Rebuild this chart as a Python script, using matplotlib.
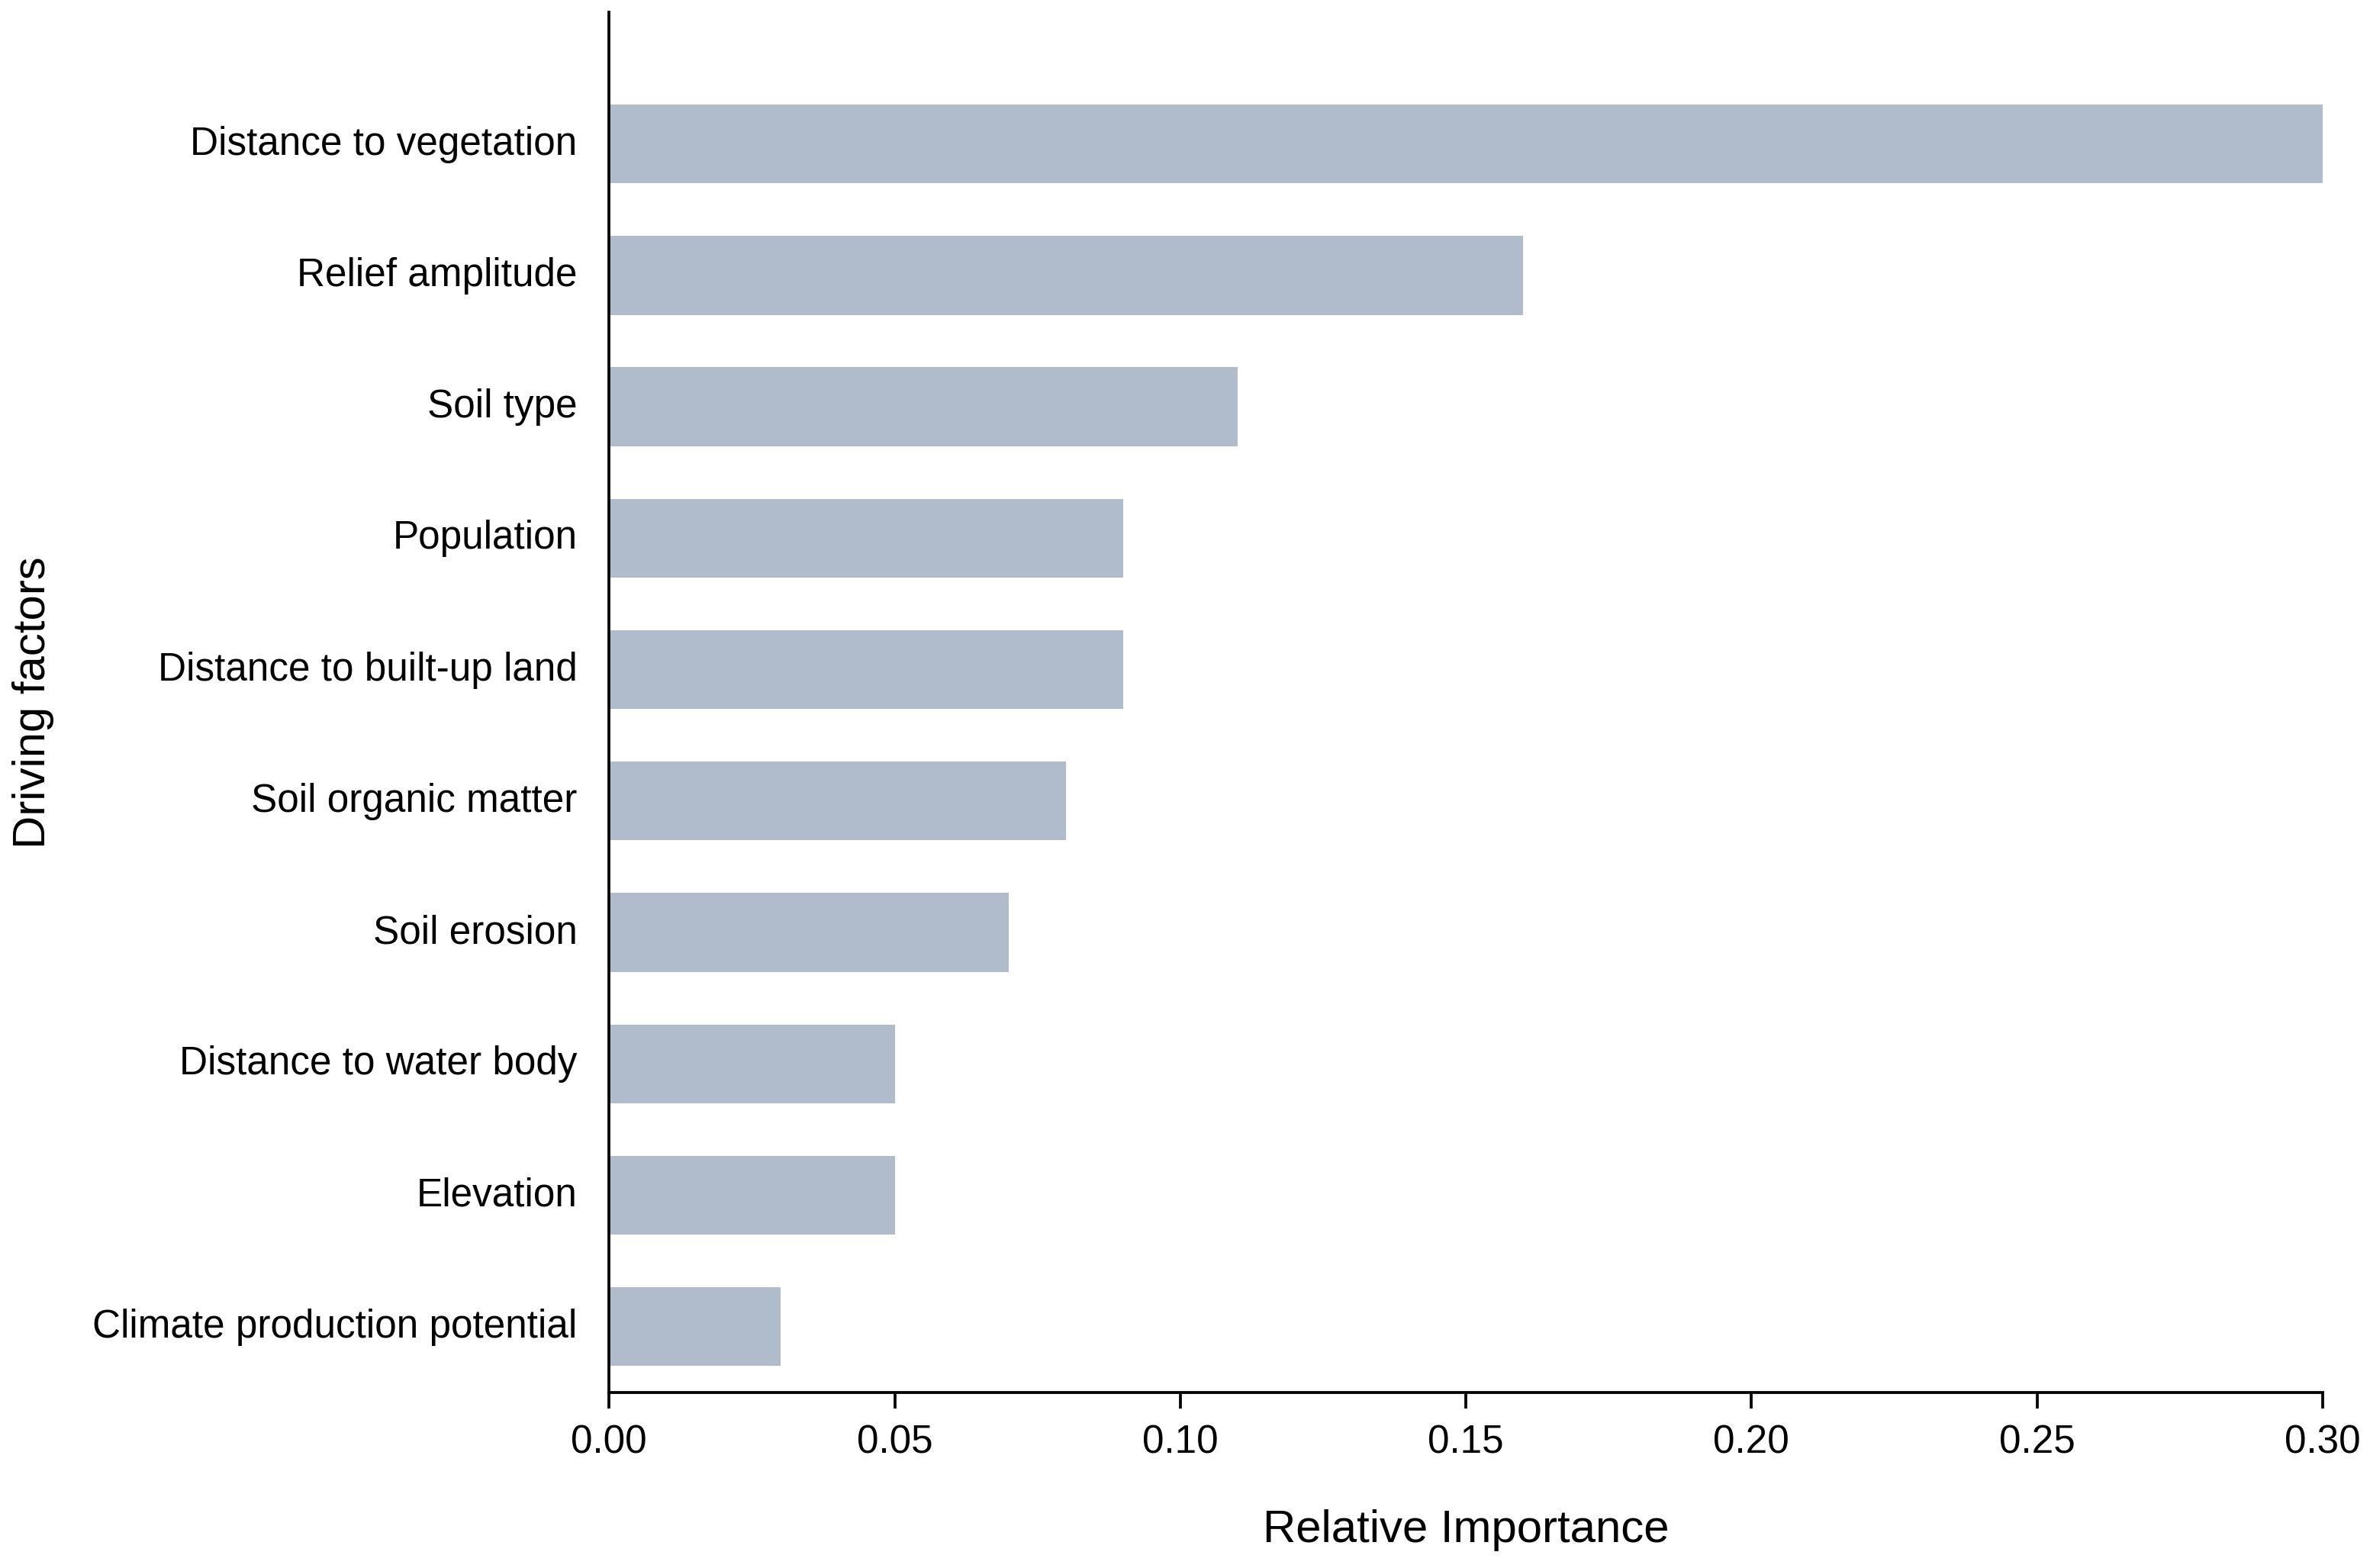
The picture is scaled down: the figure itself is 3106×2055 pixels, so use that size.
import matplotlib
matplotlib.use("Agg")
import matplotlib.pyplot as plt
import matplotlib.transforms as mtransforms

factors = ["Distance to vegetation", "Relief amplitude", "Soil type", "Population",
           "Distance to built-up land", "Soil organic matter", "Soil erosion",
           "Distance to water body", "Elevation", "Climate production potential"]
importance = [0.30, 0.16, 0.11, 0.09, 0.09, 0.08, 0.07, 0.05, 0.05, 0.03]
xticks = [0.00, 0.05, 0.10, 0.15, 0.20, 0.25, 0.30]

plt.rcParams['font.family'] = ['Liberation Sans', 'DejaVu Sans']

fig = plt.figure(figsize=(3106/300, 2055/300), dpi=300)
ax = fig.add_axes([0.257, 0.112, 0.723, 0.880])

n = len(factors)
ypos = list(range(n - 1, -1, -1))
ax.barh(ypos, importance, height=0.6, color="#B0BCCB", edgecolor="none")
ax.set_yticks(ypos)
ax.set_yticklabels(factors, fontsize=12.3)
ax.set_xticks(xticks)
ax.set_xticklabels([f"{v:.2f}" for v in xticks], fontsize=12.3)
ax.set_xlim(0, 0.30)
ax.set_ylim(-0.5, n - 1 + 1.0)

for s in ["top", "right"]:
    ax.spines[s].set_visible(False)
for s in ["left", "bottom"]:
    ax.spines[s].set_linewidth(0.9)
    ax.spines[s].set_color("black")
ax.tick_params(axis="y", length=0, pad=10)
ax.tick_params(axis="x", length=5, width=0.9, pad=5)

offset = mtransforms.ScaledTranslation(0, 1.2/72, fig.dpi_scale_trans)
for lab in ax.get_yticklabels():
    lab.set_transform(lab.get_transform() + offset)

ax.set_xlabel("Relative Importance", fontsize=14.4, labelpad=15)
ax.set_ylabel("Driving factors", fontsize=14.4, labelpad=12)

fig.savefig("out.png", dpi=300, facecolor="white")
